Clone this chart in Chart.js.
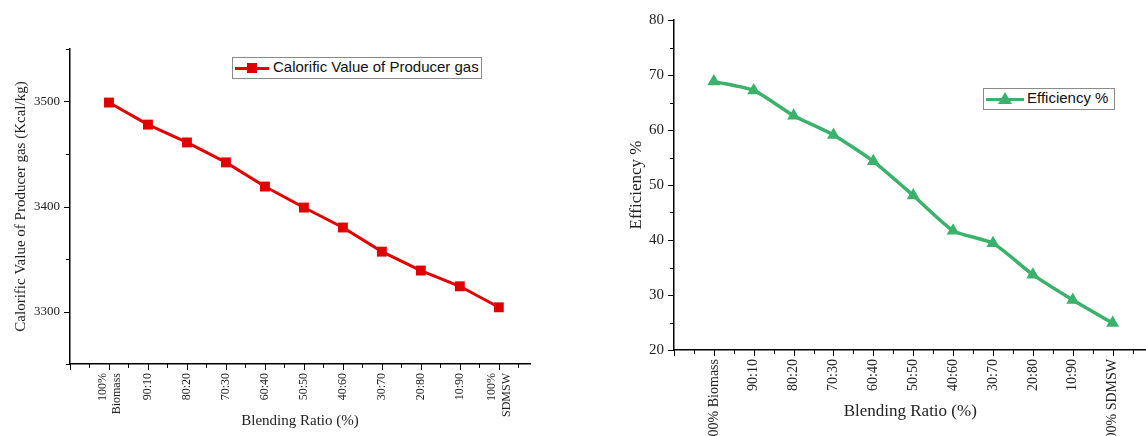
<!DOCTYPE html>
<html>
<head>
<meta charset="utf-8">
<script src="https://cdn.jsdelivr.net/npm/chart.js@4.4.1/dist/chart.umd.min.js"></script>
<style>
  body { margin: 0; background: #fff; width: 1146px; height: 436px; overflow: hidden; position: relative; }
  canvas { position: absolute; top: 0; }
  #c1 { left: 0; }
  #c2 { left: 590px; }
  .legend { position: absolute; box-sizing: border-box; height: 22px; border: 1px solid #8a8a8a; background: #fff; white-space: nowrap; }
  .legend .ln { position: absolute; top: 9px; height: 3px; }
  .legend .mk { position: absolute; }
  .legend .tx { position: absolute; top: 0; line-height: 20px; color: #111; }
  #lg1 { left: 232px; top: 57px; width: 250px; }
  #lg1 .ln { left: 2px; width: 34px; background: #e10000; }
  #lg1 .mk { left: 14px; top: 5px; width: 10px; height: 10px; background: #e10000; }
  #lg1 .tx { left: 40px; font: 15px "Liberation Sans", Arial, sans-serif; }
  #lg2 { left: 983px; top: 88px; width: 132px; }
  #lg2 .ln { left: 2px; width: 38px; background: #3bb26b; }
  #lg2 .mk { left: 14px; top: 3px; width: 0; height: 0; border-left: 7px solid transparent; border-right: 7px solid transparent; border-bottom: 12px solid #3bb26b; }
  #lg2 .tx { left: 43px; font: 15px "Liberation Sans", Arial, sans-serif; }
</style>
</head>
<body>
<canvas id="c1" width="560" height="436"></canvas>
<canvas id="c2" width="564" height="436"></canvas>
<div class="legend" id="lg1"><span class="ln"></span><span class="mk"></span><span class="tx">Calorific Value of Producer gas</span></div>
<div class="legend" id="lg2"><span class="ln"></span><span class="mk"></span><span class="tx">Efficiency %</span></div>
<script>
// category labels (left chart wraps the end labels onto two lines)
var leftLabels = [['100%', 'Biomass'], '90:10', '80:20', '70:30', '60:40', '50:50', '40:60', '30:70', '20:80', '10:90', ['100%', 'SDMSW']];
var rightLabels = ['100% Biomass', '90:10', '80:20', '70:30', '60:40', '50:50', '40:60', '30:70', '20:80', '10:90', '100% SDMSW'];

// values
var calorificValue = [3499, 3478, 3461, 3442, 3419, 3399, 3380, 3357, 3339, 3324, 3304];
var efficiency = [68.8, 67.2, 62.6, 59.1, 54.3, 48.1, 41.7, 39.4, 33.7, 29.1, 24.9];

// labelled y ticks
var calorificTicks = [3300, 3400, 3500];
var efficiencyTicks = [20, 30, 40, 50, 60, 70, 80];

var serif = 'Liberation Serif';

// tick marks: long ones on major steps, short ones halfway between
var tickMarks = {
    id: 'tickMarks',
    afterDraw: function (chart, args, opts) {
        var ctx = chart.ctx;
        ctx.save();
        ctx.strokeStyle = '#000';
        ctx.lineWidth = 1;
        ['x', 'y'].forEach(function (axis) {
            var scale = chart.scales[axis];
            var major = opts[axis], minor = major / 2;
            var start = Math.ceil(scale.min / minor - 1e-6);
            var end = Math.floor(scale.max / minor + 1e-6);
            for (var k = start; k <= end; k++) {
                var v = k * minor;
                var len = (k % 2 === 0) ? 6 : 4;
                var p = Math.round(scale.getPixelForValue(v)) + 0.5;
                ctx.beginPath();
                if (axis === 'x') {
                    ctx.moveTo(p, scale.top);
                    ctx.lineTo(p, scale.top + len);
                } else {
                    ctx.moveTo(scale.right, p);
                    ctx.lineTo(scale.right - len, p);
                }
                ctx.stroke();
            }
        });
        ctx.restore();
    }
};

function makeChart(id, cfg) {
    return new Chart(document.getElementById(id), {
        type: 'line',
        data: {
            datasets: [{
                label: cfg.label,
                data: cfg.values.map(function (v, i) { return {x: i, y: v}; }),
                borderColor: cfg.color,
                backgroundColor: cfg.color,
                borderWidth: cfg.lineWidth,
                pointStyle: cfg.pointStyle,
                pointRadius: cfg.pointRadius,
                pointHoverRadius: cfg.pointRadius,
                pointBorderWidth: 0,
                tension: cfg.tension
            }]
        },
        options: {
            responsive: false,
            devicePixelRatio: 1,
            animation: false,
            layout: {padding: cfg.padding},
            plugins: {
                legend: {display: false},
                tooltip: {enabled: false},
                tickMarks: {x: 1, y: cfg.yMajor}
            },
            scales: {
                x: {
                    type: 'linear',
                    min: -1,
                    max: cfg.xMax,
                    // one label per category; two-line labels nudged so the pair centres on its tick
                    afterBuildTicks: function (s) {
                        s.ticks = cfg.labels.map(function (l, i) {
                            return {value: i + (Array.isArray(l) ? -0.17 : 0)};
                        });
                    },
                    afterFit: function (s) {
                        s.height = cfg.xHeight;
                        s.paddingLeft = 0;
                        s.paddingRight = 0;
                    },
                    ticks: {
                        autoSkip: false,
                        minRotation: 90,
                        maxRotation: 90,
                        padding: 3,
                        color: '#222',
                        font: {family: serif, size: cfg.xFont},
                        callback: function (v) {
                            return cfg.labels[Math.round(v)] || '';
                        }
                    },
                    grid: {drawOnChartArea: false, tickLength: 6, tickColor: 'rgba(0,0,0,0)'},
                    border: {color: '#000', width: 1.5},
                    title: {
                        display: true,
                        text: 'Blending Ratio (%)',
                        color: '#222',
                        font: {family: serif, size: cfg.titleFont},
                        padding: {top: 0, bottom: cfg.xTitlePad}
                    }
                },
                y: {
                    min: cfg.yMin,
                    max: cfg.yMax,
                    afterFit: function (s) { s.width = cfg.yWidth; },
                    ticks: {
                        stepSize: cfg.yMajor / 2,
                        padding: 4,
                        color: '#222',
                        font: {family: serif, size: cfg.yFont},
                        callback: function (v) {
                            return cfg.yTicks.indexOf(v) >= 0 ? String(v) : '';
                        }
                    },
                    grid: {drawOnChartArea: false, tickLength: 6, tickColor: 'rgba(0,0,0,0)'},
                    border: {color: '#000', width: 1.5},
                    title: {
                        display: true,
                        text: cfg.yTitle,
                        color: '#222',
                        font: {family: serif, size: cfg.titleFont},
                        padding: {top: cfg.yTitlePad, bottom: 0}
                    }
                }
            }
        },
        plugins: [tickMarks]
    });
}

makeChart('c1', {
    label: 'Calorific Value of Producer gas',
    values: calorificValue,
    labels: leftLabels,
    color: '#e10000',
    lineWidth: 3,
    pointStyle: 'rect',
    pointRadius: 7,
    tension: 0,
    padding: {top: 49, right: 30, left: 0, bottom: 0},
    xMax: 10.8,
    xHeight: 72,
    xFont: 12,
    titleFont: 15,
    xTitlePad: 6,
    yMin: 3250,
    yMax: 3550,
    yMajor: 100,
    yTicks: calorificTicks,
    yWidth: 70,
    yFont: 13,
    yTitle: 'Calorific Value of Producer gas (Kcal/kg)',
    yTitlePad: 12
});

makeChart('c2', {
    label: 'Efficiency %',
    values: efficiency,
    labels: rightLabels,
    color: '#3bb26b',
    lineWidth: 3.5,
    pointStyle: 'triangle',
    pointRadius: 7.5,
    tension: 0.2,
    padding: {top: 20, right: 0, left: 0, bottom: 0},
    xMax: 10.85,
    xHeight: 86,
    xFont: 14,
    titleFont: 17,
    xTitlePad: 14,
    yMin: 20,
    yMax: 80,
    yMajor: 10,
    yTicks: efficiencyTicks,
    yWidth: 84,
    yFont: 15,
    yTitle: 'Efficiency %',
    yTitlePad: 36
});
</script>
</body>
</html>
